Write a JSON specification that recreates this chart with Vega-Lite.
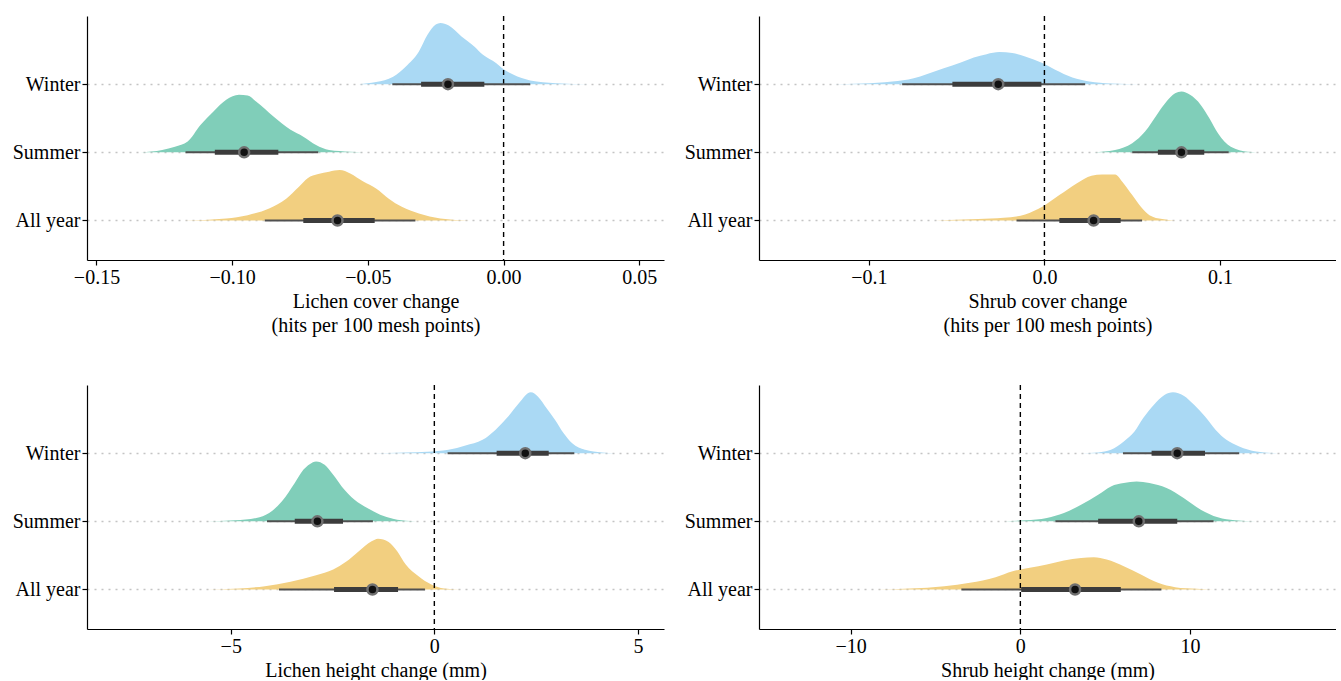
{
  "$schema": "https://vega.github.io/schema/vega-lite/v6.json",
  "padding": {"left": 12, "top": 15, "right": 0, "bottom": 0},
  "background": "white",
  "columns": 2,
  "spacing": {"row": 49, "column": 20},
  "config": {
    "font": "Liberation Serif",
    "view": {"stroke": null},
    "axis": {
      "labelFont": "Liberation Serif", "titleFont": "Liberation Serif",
      "labelFontSize": 20, "titleFontSize": 20, "titleFontWeight": "normal",
      "labelColor": "#000", "titleColor": "#000",
      "domainColor": "#000", "domainWidth": 1.2,
      "tickColor": "#000", "tickSize": 5, "tickWidth": 1.2,
      "labelPadding": 2, "titlePadding": 4, "titleLineHeight": 24, "grid": false
    }
  },
  "datasets": {
    "dens": [
      {"p":"LC","s":"Winter","x":-0.0533,"top":3.0,"base":3},
      {"p":"LC","s":"Winter","x":-0.0470,"top":3.03,"base":3},
      {"p":"LC","s":"Winter","x":-0.0407,"top":3.11,"base":3},
      {"p":"LC","s":"Winter","x":-0.0360,"top":3.26,"base":3},
      {"p":"LC","s":"Winter","x":-0.0312,"top":3.48,"base":3},
      {"p":"LC","s":"Winter","x":-0.0281,"top":3.72,"base":3},
      {"p":"LC","s":"Winter","x":-0.0250,"top":3.875,"base":3},
      {"p":"LC","s":"Winter","x":-0.0233,"top":3.897,"base":3},
      {"p":"LC","s":"Winter","x":-0.0202,"top":3.86,"base":3},
      {"p":"LC","s":"Winter","x":-0.0155,"top":3.70,"base":3},
      {"p":"LC","s":"Winter","x":-0.0107,"top":3.55,"base":3},
      {"p":"LC","s":"Winter","x":-0.0076,"top":3.43,"base":3},
      {"p":"LC","s":"Winter","x":-0.0028,"top":3.31,"base":3},
      {"p":"LC","s":"Winter","x":0.0003,"top":3.21,"base":3},
      {"p":"LC","s":"Winter","x":0.0035,"top":3.14,"base":3},
      {"p":"LC","s":"Winter","x":0.0098,"top":3.054,"base":3},
      {"p":"LC","s":"Winter","x":0.0192,"top":3.015,"base":3},
      {"p":"LC","s":"Winter","x":0.0319,"top":3.0,"base":3},

      {"p":"LC","s":"Summer","x":-0.1337,"top":2.0,"base":2},
      {"p":"LC","s":"Summer","x":-0.1258,"top":2.034,"base":2},
      {"p":"LC","s":"Summer","x":-0.1211,"top":2.083,"base":2},
      {"p":"LC","s":"Summer","x":-0.1164,"top":2.157,"base":2},
      {"p":"LC","s":"Summer","x":-0.1117,"top":2.40,"base":2},
      {"p":"LC","s":"Summer","x":-0.1069,"top":2.60,"base":2},
      {"p":"LC","s":"Summer","x":-0.1022,"top":2.77,"base":2},
      {"p":"LC","s":"Summer","x":-0.0975,"top":2.843,"base":2},
      {"p":"LC","s":"Summer","x":-0.0943,"top":2.833,"base":2},
      {"p":"LC","s":"Summer","x":-0.0912,"top":2.745,"base":2},
      {"p":"LC","s":"Summer","x":-0.0848,"top":2.525,"base":2},
      {"p":"LC","s":"Summer","x":-0.0785,"top":2.33,"base":2},
      {"p":"LC","s":"Summer","x":-0.0738,"top":2.23,"base":2},
      {"p":"LC","s":"Summer","x":-0.0691,"top":2.108,"base":2},
      {"p":"LC","s":"Summer","x":-0.0643,"top":2.034,"base":2},
      {"p":"LC","s":"Summer","x":-0.0565,"top":2.01,"base":2},
      {"p":"LC","s":"Summer","x":-0.0470,"top":2.0,"base":2},

      {"p":"LC","s":"All year","x":-0.1180,"top":1.0,"base":1},
      {"p":"LC","s":"All year","x":-0.1022,"top":1.03,"base":1},
      {"p":"LC","s":"All year","x":-0.0943,"top":1.078,"base":1},
      {"p":"LC","s":"All year","x":-0.0864,"top":1.176,"base":1},
      {"p":"LC","s":"All year","x":-0.0801,"top":1.32,"base":1},
      {"p":"LC","s":"All year","x":-0.0754,"top":1.495,"base":1},
      {"p":"LC","s":"All year","x":-0.0722,"top":1.62,"base":1},
      {"p":"LC","s":"All year","x":-0.0683,"top":1.68,"base":1},
      {"p":"LC","s":"All year","x":-0.0643,"top":1.716,"base":1},
      {"p":"LC","s":"All year","x":-0.0604,"top":1.74,"base":1},
      {"p":"LC","s":"All year","x":-0.0565,"top":1.69,"base":1},
      {"p":"LC","s":"All year","x":-0.0517,"top":1.57,"base":1},
      {"p":"LC","s":"All year","x":-0.0470,"top":1.47,"base":1},
      {"p":"LC","s":"All year","x":-0.0423,"top":1.32,"base":1},
      {"p":"LC","s":"All year","x":-0.0375,"top":1.20,"base":1},
      {"p":"LC","s":"All year","x":-0.0312,"top":1.103,"base":1},
      {"p":"LC","s":"All year","x":-0.0233,"top":1.03,"base":1},
      {"p":"LC","s":"All year","x":-0.0123,"top":1.0,"base":1},

      {"p":"SC","s":"Winter","x":-0.1207,"top":3.0,"base":3},
      {"p":"SC","s":"Winter","x":-0.1037,"top":3.01,"base":3},
      {"p":"SC","s":"Winter","x":-0.0866,"top":3.04,"base":3},
      {"p":"SC","s":"Winter","x":-0.0744,"top":3.088,"base":3},
      {"p":"SC","s":"Winter","x":-0.0671,"top":3.147,"base":3},
      {"p":"SC","s":"Winter","x":-0.0573,"top":3.235,"base":3},
      {"p":"SC","s":"Winter","x":-0.0476,"top":3.319,"base":3},
      {"p":"SC","s":"Winter","x":-0.0402,"top":3.392,"base":3},
      {"p":"SC","s":"Winter","x":-0.0329,"top":3.44,"base":3},
      {"p":"SC","s":"Winter","x":-0.0256,"top":3.47,"base":3},
      {"p":"SC","s":"Winter","x":-0.0183,"top":3.456,"base":3},
      {"p":"SC","s":"Winter","x":-0.0110,"top":3.407,"base":3},
      {"p":"SC","s":"Winter","x":-0.0012,"top":3.31,"base":3},
      {"p":"SC","s":"Winter","x":0.0061,"top":3.211,"base":3},
      {"p":"SC","s":"Winter","x":0.0159,"top":3.098,"base":3},
      {"p":"SC","s":"Winter","x":0.0256,"top":3.04,"base":3},
      {"p":"SC","s":"Winter","x":0.0378,"top":3.01,"base":3},
      {"p":"SC","s":"Winter","x":0.0549,"top":3.0,"base":3},

      {"p":"SC","s":"Summer","x":0.0280,"top":2.0,"base":2},
      {"p":"SC","s":"Summer","x":0.0402,"top":2.034,"base":2},
      {"p":"SC","s":"Summer","x":0.0500,"top":2.132,"base":2},
      {"p":"SC","s":"Summer","x":0.0573,"top":2.304,"base":2},
      {"p":"SC","s":"Summer","x":0.0646,"top":2.574,"base":2},
      {"p":"SC","s":"Summer","x":0.0695,"top":2.745,"base":2},
      {"p":"SC","s":"Summer","x":0.0744,"top":2.868,"base":2},
      {"p":"SC","s":"Summer","x":0.0780,"top":2.892,"base":2},
      {"p":"SC","s":"Summer","x":0.0829,"top":2.843,"base":2},
      {"p":"SC","s":"Summer","x":0.0890,"top":2.696,"base":2},
      {"p":"SC","s":"Summer","x":0.0939,"top":2.50,"base":2},
      {"p":"SC","s":"Summer","x":0.0988,"top":2.28,"base":2},
      {"p":"SC","s":"Summer","x":0.1061,"top":2.083,"base":2},
      {"p":"SC","s":"Summer","x":0.1159,"top":2.01,"base":2},
      {"p":"SC","s":"Summer","x":0.1256,"top":2.0,"base":2},

      {"p":"SC","s":"All year","x":-0.0622,"top":1.0,"base":1},
      {"p":"SC","s":"All year","x":-0.0378,"top":1.02,"base":1},
      {"p":"SC","s":"All year","x":-0.0232,"top":1.039,"base":1},
      {"p":"SC","s":"All year","x":-0.0110,"top":1.088,"base":1},
      {"p":"SC","s":"All year","x":-0.0012,"top":1.20,"base":1},
      {"p":"SC","s":"All year","x":0.0085,"top":1.372,"base":1},
      {"p":"SC","s":"All year","x":0.0183,"top":1.544,"base":1},
      {"p":"SC","s":"All year","x":0.0268,"top":1.657,"base":1},
      {"p":"SC","s":"All year","x":0.0329,"top":1.676,"base":1},
      {"p":"SC","s":"All year","x":0.0402,"top":1.676,"base":1},
      {"p":"SC","s":"All year","x":0.0451,"top":1.544,"base":1},
      {"p":"SC","s":"All year","x":0.0500,"top":1.372,"base":1},
      {"p":"SC","s":"All year","x":0.0549,"top":1.20,"base":1},
      {"p":"SC","s":"All year","x":0.0598,"top":1.078,"base":1},
      {"p":"SC","s":"All year","x":0.0671,"top":1.02,"base":1},
      {"p":"SC","s":"All year","x":0.0744,"top":1.0,"base":1},

      {"p":"LH","s":"Winter","x":-1.541,"top":3.0,"base":3},
      {"p":"LH","s":"Winter","x":-0.702,"top":3.01,"base":3},
      {"p":"LH","s":"Winter","x":-0.178,"top":3.02,"base":3},
      {"p":"LH","s":"Winter","x":0.346,"top":3.049,"base":3},
      {"p":"LH","s":"Winter","x":0.765,"top":3.112,"base":3},
      {"p":"LH","s":"Winter","x":1.184,"top":3.195,"base":3},
      {"p":"LH","s":"Winter","x":1.499,"top":3.341,"base":3},
      {"p":"LH","s":"Winter","x":1.813,"top":3.537,"base":3},
      {"p":"LH","s":"Winter","x":2.075,"top":3.732,"base":3},
      {"p":"LH","s":"Winter","x":2.369,"top":3.893,"base":3},
      {"p":"LH","s":"Winter","x":2.547,"top":3.829,"base":3},
      {"p":"LH","s":"Winter","x":2.757,"top":3.659,"base":3},
      {"p":"LH","s":"Winter","x":2.966,"top":3.488,"base":3},
      {"p":"LH","s":"Winter","x":3.176,"top":3.293,"base":3},
      {"p":"LH","s":"Winter","x":3.386,"top":3.146,"base":3},
      {"p":"LH","s":"Winter","x":3.700,"top":3.049,"base":3},
      {"p":"LH","s":"Winter","x":4.119,"top":3.01,"base":3},
      {"p":"LH","s":"Winter","x":4.434,"top":3.0,"base":3},

      {"p":"LH","s":"Summer","x":-5.629,"top":2.0,"base":2},
      {"p":"LH","s":"Summer","x":-4.895,"top":2.015,"base":2},
      {"p":"LH","s":"Summer","x":-4.371,"top":2.049,"base":2},
      {"p":"LH","s":"Summer","x":-4.057,"top":2.122,"base":2},
      {"p":"LH","s":"Summer","x":-3.742,"top":2.293,"base":2},
      {"p":"LH","s":"Summer","x":-3.428,"top":2.561,"base":2},
      {"p":"LH","s":"Summer","x":-3.218,"top":2.756,"base":2},
      {"p":"LH","s":"Summer","x":-3.061,"top":2.839,"base":2},
      {"p":"LH","s":"Summer","x":-2.904,"top":2.878,"base":2},
      {"p":"LH","s":"Summer","x":-2.694,"top":2.829,"base":2},
      {"p":"LH","s":"Summer","x":-2.484,"top":2.683,"base":2},
      {"p":"LH","s":"Summer","x":-2.275,"top":2.512,"base":2},
      {"p":"LH","s":"Summer","x":-1.960,"top":2.317,"base":2},
      {"p":"LH","s":"Summer","x":-1.646,"top":2.195,"base":2},
      {"p":"LH","s":"Summer","x":-1.331,"top":2.098,"base":2},
      {"p":"LH","s":"Summer","x":-1.017,"top":2.039,"base":2},
      {"p":"LH","s":"Summer","x":-0.597,"top":2.005,"base":2},
      {"p":"LH","s":"Summer","x":-0.283,"top":2.0,"base":2},

      {"p":"LH","s":"All year","x":-5.629,"top":1.0,"base":1},
      {"p":"LH","s":"All year","x":-4.790,"top":1.015,"base":1},
      {"p":"LH","s":"All year","x":-4.161,"top":1.049,"base":1},
      {"p":"LH","s":"All year","x":-3.532,"top":1.112,"base":1},
      {"p":"LH","s":"All year","x":-2.904,"top":1.21,"base":1},
      {"p":"LH","s":"All year","x":-2.484,"top":1.293,"base":1},
      {"p":"LH","s":"All year","x":-2.170,"top":1.405,"base":1},
      {"p":"LH","s":"All year","x":-1.855,"top":1.561,"base":1},
      {"p":"LH","s":"All year","x":-1.541,"top":1.707,"base":1},
      {"p":"LH","s":"All year","x":-1.384,"top":1.746,"base":1},
      {"p":"LH","s":"All year","x":-1.122,"top":1.698,"base":1},
      {"p":"LH","s":"All year","x":-0.912,"top":1.561,"base":1},
      {"p":"LH","s":"All year","x":-0.702,"top":1.366,"base":1},
      {"p":"LH","s":"All year","x":-0.388,"top":1.195,"base":1},
      {"p":"LH","s":"All year","x":-0.073,"top":1.073,"base":1},
      {"p":"LH","s":"All year","x":0.241,"top":1.015,"base":1},
      {"p":"LH","s":"All year","x":0.660,"top":1.0,"base":1},

      {"p":"SH","s":"Winter","x":3.577,"top":3.0,"base":3},
      {"p":"SH","s":"Winter","x":4.585,"top":3.01,"base":3},
      {"p":"SH","s":"Winter","x":5.340,"top":3.049,"base":3},
      {"p":"SH","s":"Winter","x":6.096,"top":3.171,"base":3},
      {"p":"SH","s":"Winter","x":6.726,"top":3.317,"base":3},
      {"p":"SH","s":"Winter","x":7.230,"top":3.512,"base":3},
      {"p":"SH","s":"Winter","x":7.859,"top":3.707,"base":3},
      {"p":"SH","s":"Winter","x":8.489,"top":3.854,"base":3},
      {"p":"SH","s":"Winter","x":8.993,"top":3.893,"base":3},
      {"p":"SH","s":"Winter","x":9.623,"top":3.844,"base":3},
      {"p":"SH","s":"Winter","x":10.252,"top":3.707,"base":3},
      {"p":"SH","s":"Winter","x":10.882,"top":3.537,"base":3},
      {"p":"SH","s":"Winter","x":11.512,"top":3.341,"base":3},
      {"p":"SH","s":"Winter","x":12.142,"top":3.195,"base":3},
      {"p":"SH","s":"Winter","x":12.897,"top":3.098,"base":3},
      {"p":"SH","s":"Winter","x":13.905,"top":3.024,"base":3},
      {"p":"SH","s":"Winter","x":15.164,"top":3.0,"base":3},

      {"p":"SH","s":"Summer","x":-0.957,"top":2.0,"base":2},
      {"p":"SH","s":"Summer","x":0.302,"top":2.015,"base":2},
      {"p":"SH","s":"Summer","x":1.562,"top":2.049,"base":2},
      {"p":"SH","s":"Summer","x":2.569,"top":2.122,"base":2},
      {"p":"SH","s":"Summer","x":3.577,"top":2.244,"base":2},
      {"p":"SH","s":"Summer","x":4.585,"top":2.39,"base":2},
      {"p":"SH","s":"Summer","x":5.340,"top":2.512,"base":2},
      {"p":"SH","s":"Summer","x":6.096,"top":2.561,"base":2},
      {"p":"SH","s":"Summer","x":6.852,"top":2.585,"base":2},
      {"p":"SH","s":"Summer","x":7.607,"top":2.561,"base":2},
      {"p":"SH","s":"Summer","x":8.615,"top":2.488,"base":2},
      {"p":"SH","s":"Summer","x":9.623,"top":2.341,"base":2},
      {"p":"SH","s":"Summer","x":10.630,"top":2.171,"base":2},
      {"p":"SH","s":"Summer","x":11.638,"top":2.059,"base":2},
      {"p":"SH","s":"Summer","x":12.646,"top":2.015,"base":2},
      {"p":"SH","s":"Summer","x":13.905,"top":2.0,"base":2},

      {"p":"SH","s":"All year","x":-8.514,"top":1.0,"base":1},
      {"p":"SH","s":"All year","x":-6.499,"top":1.015,"base":1},
      {"p":"SH","s":"All year","x":-4.484,"top":1.049,"base":1},
      {"p":"SH","s":"All year","x":-2.972,"top":1.098,"base":1},
      {"p":"SH","s":"All year","x":-1.461,"top":1.181,"base":1},
      {"p":"SH","s":"All year","x":-0.453,"top":1.268,"base":1},
      {"p":"SH","s":"All year","x":0.554,"top":1.317,"base":1},
      {"p":"SH","s":"All year","x":1.562,"top":1.366,"base":1},
      {"p":"SH","s":"All year","x":2.569,"top":1.424,"base":1},
      {"p":"SH","s":"All year","x":3.577,"top":1.463,"base":1},
      {"p":"SH","s":"All year","x":4.333,"top":1.473,"base":1},
      {"p":"SH","s":"All year","x":5.088,"top":1.439,"base":1},
      {"p":"SH","s":"All year","x":6.096,"top":1.341,"base":1},
      {"p":"SH","s":"All year","x":7.104,"top":1.22,"base":1},
      {"p":"SH","s":"All year","x":8.111,"top":1.098,"base":1},
      {"p":"SH","s":"All year","x":9.119,"top":1.034,"base":1},
      {"p":"SH","s":"All year","x":10.378,"top":1.01,"base":1},
      {"p":"SH","s":"All year","x":11.386,"top":1.0,"base":1}
    ],
    "iv": [
      {"p":"LC","s":"Winter","lvl":3,"med":-0.0205,"lo66":-0.0304,"hi66":-0.0071,"lo95":-0.0410,"hi95":0.0098},
      {"p":"LC","s":"Summer","lvl":2,"med":-0.0956,"lo66":-0.1064,"hi66":-0.0830,"lo95":-0.1172,"hi95":-0.0683},
      {"p":"LC","s":"All year","lvl":1,"med":-0.0612,"lo66":-0.0738,"hi66":-0.0475,"lo95":-0.0880,"hi95":-0.0325},
      {"p":"SC","s":"Winter","lvl":3,"med":-0.0263,"lo66":-0.0524,"hi66":-0.0017,"lo95":-0.0810,"hi95":0.0232},
      {"p":"SC","s":"Summer","lvl":2,"med":0.078,"lo66":0.0646,"hi66":0.0910,"lo95":0.050,"hi95":0.1049},
      {"p":"SC","s":"All year","lvl":1,"med":0.028,"lo66":0.0085,"hi66":0.0434,"lo95":-0.0159,"hi95":0.0556},
      {"p":"LH","s":"Winter","lvl":3,"med":2.233,"lo66":1.530,"hi66":2.809,"lo95":0.325,"hi95":3.438},
      {"p":"LH","s":"Summer","lvl":2,"med":-2.872,"lo66":-3.428,"hi66":-2.243,"lo95":-4.109,"hi95":-1.509},
      {"p":"LH","s":"All year","lvl":1,"med":-1.520,"lo66":-2.463,"hi66":-0.891,"lo95":-3.815,"hi95":-0.231},
      {"p":"SH","s":"Winter","lvl":3,"med":9.245,"lo66":7.733,"hi66":10.882,"lo95":6.046,"hi95":12.897},
      {"p":"SH","s":"Summer","lvl":2,"med":6.978,"lo66":4.585,"hi66":9.245,"lo95":2.066,"hi95":11.386},
      {"p":"SH","s":"All year","lvl":1,"med":3.224,"lo66":0.050,"hi66":5.920,"lo95":-3.476,"hi95":8.313}
    ]
  },
  "concat": [
    {
      "width": 577, "height": 244,
      "layer": [
        {
          "data": {"name": "dens"},
          "transform": [{"filter": "datum.p == 'LC'"}],
          "mark": {"type": "area", "interpolate": "monotone", "opacity": 1},
          "encoding": {
            "x": {"field": "x", "type": "quantitative", "scale": {"domain": [-0.1535, 0.0591], "nice": false, "zero": false},
                  "axis": {"values": [-0.15, -0.1, -0.05, 0, 0.05], "format": ".2f", "labelFlush": false, "labelOverlap": false, "title": ["Lichen cover change", "(hits per 100 mesh points)"]}},
            "y": {"field": "top", "type": "quantitative", "scale": {"domain": [0.42, 4.0], "nice": false, "zero": false},
                  "axis": {"values": [1, 2, 3], "labelExpr": "datum.value == 3 ? 'Winter' : datum.value == 2 ? 'Summer' : 'All year'", "title": null, "grid": true, "gridDash": [2, 5], "gridColor": "#c4c4c4", "gridWidth": 1.3, "labelFlush": false, "labelOverlap": false}},
            "y2": {"field": "base"},
            "color": {"field": "s", "type": "nominal", "scale": {"domain": ["Winter", "Summer", "All year"], "range": ["#AAD9F4", "#80CEB9", "#F2CF80"]}, "legend": null}
          }
        },
        {
          "data": {"values": [{}]},
          "mark": {"type": "rule", "strokeDash": [5, 4], "color": "#000", "strokeWidth": 1.4},
          "encoding": {"x": {"datum": 0, "type": "quantitative"}}
        },
        {
          "data": {"name": "iv"},
          "transform": [{"filter": "datum.p == 'LC'"}],
          "mark": {"type": "rule", "color": "#505050", "strokeWidth": 2},
          "encoding": {"x": {"field": "lo95", "type": "quantitative"}, "x2": {"field": "hi95"}, "y": {"field": "lvl", "type": "quantitative"}}
        },
        {
          "data": {"name": "iv"},
          "transform": [{"filter": "datum.p == 'LC'"}],
          "mark": {"type": "rule", "color": "#3c3c3c", "strokeWidth": 5},
          "encoding": {"x": {"field": "lo66", "type": "quantitative"}, "x2": {"field": "hi66"}, "y": {"field": "lvl", "type": "quantitative"}}
        },
        {
          "data": {"name": "iv"},
          "transform": [{"filter": "datum.p == 'LC'"}],
          "mark": {"type": "circle", "fill": "#111", "stroke": "#707070", "strokeWidth": 2.5, "size": 100, "opacity": 1},
          "encoding": {"x": {"field": "med", "type": "quantitative"}, "y": {"field": "lvl", "type": "quantitative"}}
        }
      ]
    },
    {
      "width": 577, "height": 244,
      "layer": [
        {
          "data": {"name": "dens"},
          "transform": [{"filter": "datum.p == 'SC'"}],
          "mark": {"type": "area", "interpolate": "monotone", "opacity": 1},
          "encoding": {
            "x": {"field": "x", "type": "quantitative", "scale": {"domain": [-0.1625, 0.166], "nice": false, "zero": false},
                  "axis": {"values": [-0.1, 0, 0.1], "format": ".1f", "labelFlush": false, "labelOverlap": false, "title": ["Shrub cover change", "(hits per 100 mesh points)"]}},
            "y": {"field": "top", "type": "quantitative", "scale": {"domain": [0.42, 4.0], "nice": false, "zero": false},
                  "axis": {"values": [1, 2, 3], "labelExpr": "datum.value == 3 ? 'Winter' : datum.value == 2 ? 'Summer' : 'All year'", "title": null, "grid": true, "gridDash": [2, 5], "gridColor": "#c4c4c4", "gridWidth": 1.3, "labelFlush": false, "labelOverlap": false}},
            "y2": {"field": "base"},
            "color": {"field": "s", "type": "nominal", "scale": {"domain": ["Winter", "Summer", "All year"], "range": ["#AAD9F4", "#80CEB9", "#F2CF80"]}, "legend": null}
          }
        },
        {
          "data": {"values": [{}]},
          "mark": {"type": "rule", "strokeDash": [5, 4], "color": "#000", "strokeWidth": 1.4},
          "encoding": {"x": {"datum": 0, "type": "quantitative"}}
        },
        {
          "data": {"name": "iv"},
          "transform": [{"filter": "datum.p == 'SC'"}],
          "mark": {"type": "rule", "color": "#505050", "strokeWidth": 2},
          "encoding": {"x": {"field": "lo95", "type": "quantitative"}, "x2": {"field": "hi95"}, "y": {"field": "lvl", "type": "quantitative"}}
        },
        {
          "data": {"name": "iv"},
          "transform": [{"filter": "datum.p == 'SC'"}],
          "mark": {"type": "rule", "color": "#3c3c3c", "strokeWidth": 5},
          "encoding": {"x": {"field": "lo66", "type": "quantitative"}, "x2": {"field": "hi66"}, "y": {"field": "lvl", "type": "quantitative"}}
        },
        {
          "data": {"name": "iv"},
          "transform": [{"filter": "datum.p == 'SC'"}],
          "mark": {"type": "circle", "fill": "#111", "stroke": "#707070", "strokeWidth": 2.5, "size": 100, "opacity": 1},
          "encoding": {"x": {"field": "med", "type": "quantitative"}, "y": {"field": "lvl", "type": "quantitative"}}
        }
      ]
    },
    {
      "width": 577, "height": 244,
      "layer": [
        {
          "data": {"name": "dens"},
          "transform": [{"filter": "datum.p == 'LH'"}],
          "mark": {"type": "area", "interpolate": "monotone", "opacity": 1},
          "encoding": {
            "x": {"field": "x", "type": "quantitative", "scale": {"domain": [-8.53, 5.64], "nice": false, "zero": false},
                  "axis": {"values": [-5, 0, 5], "format": "d", "labelFlush": false, "labelOverlap": false, "title": "Lichen height change (mm)"}},
            "y": {"field": "top", "type": "quantitative", "scale": {"domain": [0.42, 4.0], "nice": false, "zero": false},
                  "axis": {"values": [1, 2, 3], "labelExpr": "datum.value == 3 ? 'Winter' : datum.value == 2 ? 'Summer' : 'All year'", "title": null, "grid": true, "gridDash": [2, 5], "gridColor": "#c4c4c4", "gridWidth": 1.3, "labelFlush": false, "labelOverlap": false}},
            "y2": {"field": "base"},
            "color": {"field": "s", "type": "nominal", "scale": {"domain": ["Winter", "Summer", "All year"], "range": ["#AAD9F4", "#80CEB9", "#F2CF80"]}, "legend": null}
          }
        },
        {
          "data": {"values": [{}]},
          "mark": {"type": "rule", "strokeDash": [5, 4], "color": "#000", "strokeWidth": 1.4},
          "encoding": {"x": {"datum": 0, "type": "quantitative"}}
        },
        {
          "data": {"name": "iv"},
          "transform": [{"filter": "datum.p == 'LH'"}],
          "mark": {"type": "rule", "color": "#505050", "strokeWidth": 2},
          "encoding": {"x": {"field": "lo95", "type": "quantitative"}, "x2": {"field": "hi95"}, "y": {"field": "lvl", "type": "quantitative"}}
        },
        {
          "data": {"name": "iv"},
          "transform": [{"filter": "datum.p == 'LH'"}],
          "mark": {"type": "rule", "color": "#3c3c3c", "strokeWidth": 5},
          "encoding": {"x": {"field": "lo66", "type": "quantitative"}, "x2": {"field": "hi66"}, "y": {"field": "lvl", "type": "quantitative"}}
        },
        {
          "data": {"name": "iv"},
          "transform": [{"filter": "datum.p == 'LH'"}],
          "mark": {"type": "circle", "fill": "#111", "stroke": "#707070", "strokeWidth": 2.5, "size": 100, "opacity": 1},
          "encoding": {"x": {"field": "med", "type": "quantitative"}, "y": {"field": "lvl", "type": "quantitative"}}
        }
      ]
    },
    {
      "width": 577, "height": 244,
      "layer": [
        {
          "data": {"name": "dens"},
          "transform": [{"filter": "datum.p == 'SH'"}],
          "mark": {"type": "area", "interpolate": "monotone", "opacity": 1},
          "encoding": {
            "x": {"field": "x", "type": "quantitative", "scale": {"domain": [-15.4, 18.6], "nice": false, "zero": false},
                  "axis": {"values": [-10, 0, 10], "format": "d", "labelFlush": false, "labelOverlap": false, "title": "Shrub height change (mm)"}},
            "y": {"field": "top", "type": "quantitative", "scale": {"domain": [0.42, 4.0], "nice": false, "zero": false},
                  "axis": {"values": [1, 2, 3], "labelExpr": "datum.value == 3 ? 'Winter' : datum.value == 2 ? 'Summer' : 'All year'", "title": null, "grid": true, "gridDash": [2, 5], "gridColor": "#c4c4c4", "gridWidth": 1.3, "labelFlush": false, "labelOverlap": false}},
            "y2": {"field": "base"},
            "color": {"field": "s", "type": "nominal", "scale": {"domain": ["Winter", "Summer", "All year"], "range": ["#AAD9F4", "#80CEB9", "#F2CF80"]}, "legend": null}
          }
        },
        {
          "data": {"values": [{}]},
          "mark": {"type": "rule", "strokeDash": [5, 4], "color": "#000", "strokeWidth": 1.4},
          "encoding": {"x": {"datum": 0, "type": "quantitative"}}
        },
        {
          "data": {"name": "iv"},
          "transform": [{"filter": "datum.p == 'SH'"}],
          "mark": {"type": "rule", "color": "#505050", "strokeWidth": 2},
          "encoding": {"x": {"field": "lo95", "type": "quantitative"}, "x2": {"field": "hi95"}, "y": {"field": "lvl", "type": "quantitative"}}
        },
        {
          "data": {"name": "iv"},
          "transform": [{"filter": "datum.p == 'SH'"}],
          "mark": {"type": "rule", "color": "#3c3c3c", "strokeWidth": 5},
          "encoding": {"x": {"field": "lo66", "type": "quantitative"}, "x2": {"field": "hi66"}, "y": {"field": "lvl", "type": "quantitative"}}
        },
        {
          "data": {"name": "iv"},
          "transform": [{"filter": "datum.p == 'SH'"}],
          "mark": {"type": "circle", "fill": "#111", "stroke": "#707070", "strokeWidth": 2.5, "size": 100, "opacity": 1},
          "encoding": {"x": {"field": "med", "type": "quantitative"}, "y": {"field": "lvl", "type": "quantitative"}}
        }
      ]
    }
  ]
}
